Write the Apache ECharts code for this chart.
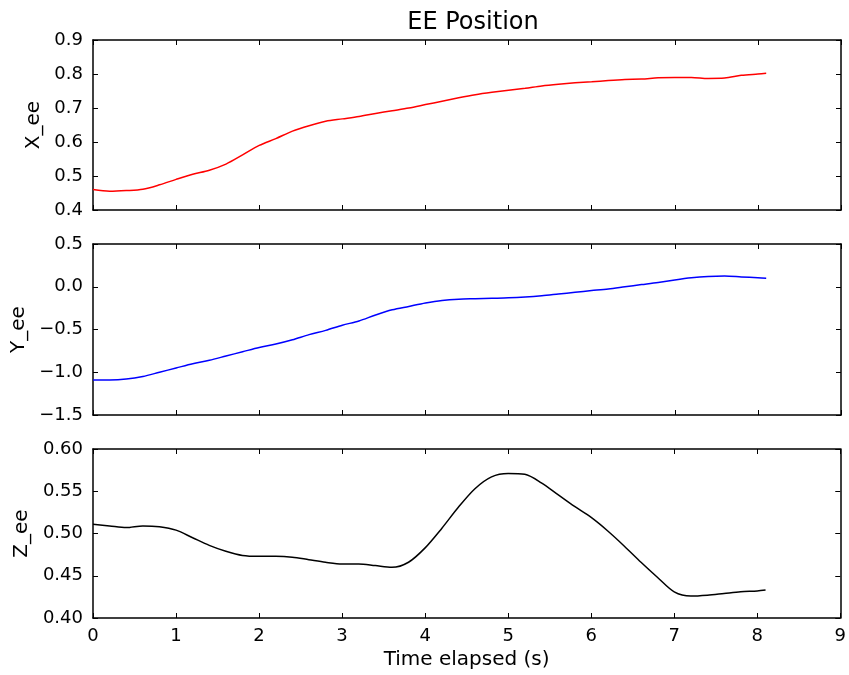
<!DOCTYPE html>
<html><head><meta charset="utf-8">
<script src="https://cdn.jsdelivr.net/npm/echarts@6/dist/echarts.min.js"></script>
<style>html,body{margin:0;padding:0;background:#fff}#c{width:849px;height:675px}</style>
</head><body><div id="c"></div>
<script>
const timeS = [0,0.2,0.4,0.6,0.8,1.0,1.2,1.4,1.6,1.8,2.0,2.2,2.4,2.6,2.8,3.0,3.2,3.4,3.6,3.8,4.0,4.2,4.4,4.6,4.8,5.0,5.2,5.4,5.6,5.8,6.0,6.2,6.4,6.6,6.8,7.0,7.2,7.4,7.6,7.8,8.0,8.1];
const xEE = [0.460,0.455,0.457,0.461,0.474,0.490,0.505,0.517,0.535,0.562,0.590,0.610,0.632,0.648,0.661,0.668,0.675,0.684,0.692,0.700,0.710,0.720,0.730,0.739,0.746,0.752,0.758,0.765,0.770,0.774,0.777,0.781,0.784,0.785,0.789,0.790,0.790,0.787,0.788,0.796,0.800,0.802];
const yEE = [-1.09,-1.09,-1.08,-1.05,-1.00,-0.95,-0.90,-0.86,-0.81,-0.76,-0.71,-0.67,-0.62,-0.56,-0.51,-0.45,-0.40,-0.33,-0.27,-0.23,-0.19,-0.16,-0.145,-0.14,-0.135,-0.13,-0.12,-0.105,-0.085,-0.065,-0.045,-0.025,0.00,0.025,0.05,0.08,0.105,0.12,0.125,0.115,0.105,0.10];
const zEE = [0.511,0.509,0.507,0.509,0.508,0.504,0.495,0.486,0.479,0.474,0.473,0.473,0.472,0.469,0.466,0.464,0.464,0.462,0.460,0.466,0.483,0.506,0.531,0.553,0.567,0.571,0.570,0.560,0.546,0.532,0.519,0.503,0.485,0.466,0.448,0.431,0.426,0.427,0.429,0.431,0.432,0.433];
const xTicks = [0,1,2,3,4,5,6,7,8,9];
const panels = [
  {name:'X_ee', vals:xEE, color:'#ff0000', min:0.4, max:0.9, interval:0.1, dec:1, gap:45},
  {name:'Y_ee', vals:yEE, color:'#0000ff', min:-1.5, max:0.5, interval:0.5, dec:1, gap:58},
  {name:'Z_ee', vals:zEE, color:'#000000', min:0.4, max:0.6, interval:0.05, dec:2, gap:58}
];
const grids = [
  {left:93, right:8, top:40, height:170},
  {left:93, right:8, top:244, height:171},
  {left:93, right:8, top:449, height:169}
];
const font = 'DejaVu Sans';
const lineBlack = {show:true, onZero:false, lineStyle:{color:'#000', width:1.5}};
const tick = {show:true, inside:true, length:5, lineStyle:{color:'#000', width:1}};
const xAxes = [], yAxes = [], series = [];
panels.forEach((p, i) => {
  const last = i === panels.length - 1;
  xAxes.push({type:'value', gridIndex:i, min:xTicks[0], max:xTicks[xTicks.length-1], interval:1, position:'bottom',
    axisLine:lineBlack, axisTick:tick, splitLine:{show:false},
    axisLabel:{show:last, color:'#000', fontFamily:font, fontSize:18, margin:9},
    name: last ? 'Time elapsed (s)' : '', nameLocation:'middle', nameGap:32,
    nameTextStyle:{color:'#000', fontFamily:font, fontSize:20}});
  xAxes.push({type:'value', gridIndex:i, min:xTicks[0], max:xTicks[xTicks.length-1], interval:1, position:'top',
    axisLine:lineBlack, axisTick:tick, splitLine:{show:false}, axisLabel:{show:false}});
  yAxes.push({type:'value', gridIndex:i, min:p.min, max:p.max, interval:p.interval, position:'left',
    axisLine:lineBlack, axisTick:tick, splitLine:{show:false},
    axisLabel:{color:'#000', fontFamily:font, fontSize:18, margin:10,
      formatter: v => { const s = Math.abs(v).toFixed(p.dec); return v < -1e-9 ? '\u2212' + s : s; }},
    name:p.name, nameLocation:'middle', nameGap:p.gap, nameRotate:90,
    nameTextStyle:{color:'#000', fontFamily:font, fontSize:20}});
  yAxes.push({type:'value', gridIndex:i, min:p.min, max:p.max, interval:p.interval, position:'right',
    axisLine:lineBlack, axisTick:tick, splitLine:{show:false}, axisLabel:{show:false}});
  series.push({type:'line', xAxisIndex:i*2, yAxisIndex:i*2, showSymbol:false, smooth:0.3,
    lineStyle:{color:p.color, width:1.5}, itemStyle:{color:p.color},
    data: timeS.map((t, k) => [t, p.vals[k]])});
});
const chart = echarts.init(document.getElementById('c'));
chart.setOption({
  animation:false,
  backgroundColor:'#fff',
  title:{text:'EE Position', top:6, left:468, textAlign:'center',
    textStyle:{color:'#000', fontFamily:font, fontSize:24, fontWeight:'normal'}},
  grid:grids, xAxis:xAxes, yAxis:yAxes, series:series
});
</script></body></html>
